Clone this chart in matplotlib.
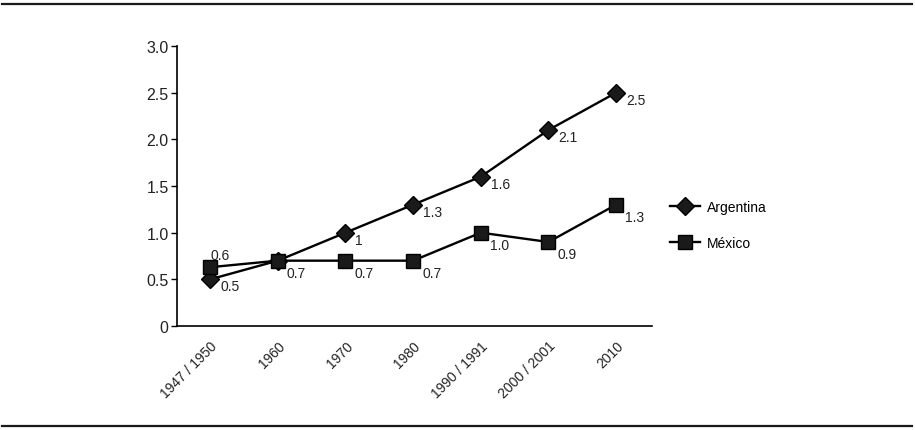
import matplotlib
matplotlib.use("Agg")
import matplotlib.pyplot as plt
from matplotlib.lines import Line2D

plt.rcParams['font.family'] = ['Liberation Sans', 'DejaVu Sans']

categories = ["1947 / 1950", "1960", "1970", "1980", "1990 / 1991", "2000 / 2001", "2010"]
argentina = [0.5, 0.7, 1.0, 1.3, 1.6, 2.1, 2.5]
mexico = [0.63, 0.7, 0.7, 0.7, 1.0, 0.9, 1.3]
argentina_labels = ["0.5", "", "1", "1.3", "1.6", "2.1", "2.5"]
mexico_labels = ["0.6", "0.7", "0.7", "0.7", "1.0", "0.9", "1.3"]
yticks = [0, 0.5, 1.0, 1.5, 2.0, 2.5, 3.0]
yticklabels = ["0", "0.5", "1.0", "1.5", "2.0", "2.5", "3.0"]

fig = plt.figure(figsize=(9.15, 4.31), dpi=100)
ax = fig.add_axes([177/915, 1-327/431, (652-177)/915, (327-47)/431])

x = list(range(len(categories)))
ax.plot(x, argentina, color='black', lw=1.7, marker='D', markersize=9,
        markerfacecolor='#1a1a1a', markeredgecolor='black', label='Argentina', zorder=3)
ax.plot(x, mexico, color='black', lw=1.7, marker='s', markersize=9.5,
        markerfacecolor='#1a1a1a', markeredgecolor='black', label='México', zorder=3)

for xi, yi, lab in zip(x, argentina, argentina_labels):
    if lab:
        ax.annotate(lab, (xi, yi), xytext=(10, -7), textcoords='offset pixels',
                    ha='left', va='center', fontsize=10, color='#222222')
for i, (xi, yi, lab) in enumerate(zip(x, mexico, mexico_labels)):
    if i == 0:
        off = (0, 12)
    else:
        off = (9, -12)
    ax.annotate(lab, (xi, yi), xytext=off, textcoords='offset pixels',
                ha='left', va='center', fontsize=10, color='#222222')

ax.set_xlim(-0.49, 6.53)
ax.set_ylim(0, 3.0)
ax.set_yticks(yticks)
ax.set_yticklabels(yticklabels, fontsize=11.5, color='#222222')
ax.set_xticks(x)
ax.set_xticklabels(categories, rotation=45, ha='right', rotation_mode='anchor', fontsize=10,
                   color='#222222')
ax.tick_params(axis='x', length=0, pad=9)
ax.tick_params(axis='y', length=4, width=1, direction='out', pad=2)
for s in ['top', 'right']:
    ax.spines[s].set_visible(False)
for s in ['left', 'bottom']:
    ax.spines[s].set_linewidth(1.2)

fig.legend(loc='center left', bbox_to_anchor=(657/915, 1-226/431), frameon=False,
           fontsize=10, labelspacing=1.6, handlelength=2.2, handletextpad=0.5)

fig.add_artist(Line2D([2/915, 912/915], [1-5/431, 1-5/431], color='#1a1a1a', lw=1.6))
fig.add_artist(Line2D([2/915, 912/915], [1-427/431, 1-427/431], color='#1a1a1a', lw=1.6))

fig.savefig('out.png', dpi=100)
